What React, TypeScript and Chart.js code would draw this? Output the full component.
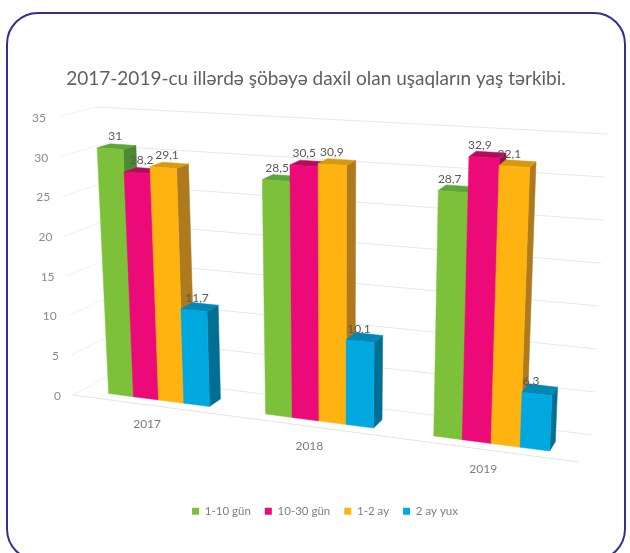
import React, { useEffect, useRef } from "react";
import { Chart, registerables } from "chart.js";

Chart.register(...registerables);

const titleText = "2017-2019-cu illərdə şöbəyə daxil olan uşaqların yaş tərkibi.";
const years = ["2017", "2018", "2019"];
const days1to10 = [31, 28.5, 28.7];
const days10to30 = [28.2, 30.5, 32.9];
const months1to2 = [29.1, 30.9, 32.1];
const monthsOver2 = [11.7, 10.1, 6.3];
const seriesNames = ["1-10 gün", "10-30 gün", "1-2 ay", "2 ay yux"];
const frontColors = ["#7DC13A", "#EC0A78", "#FFB311", "#00A8E0"];
const sideColors = ["#4B8A30", "#A5064F", "#AD7A1E", "#006F94"];
const topColors = ["#5CA63A", "#B80A5C", "#D8980F", "#0087B5"];

type Pt = [number, number];
// Corners of the 3D box as it appears on screen
const corners = {
  frontBottomLeft: [73, 395] as Pt,
  frontBottomRight: [578, 462] as Pt,
  backBottomLeft: [110, 375] as Pt,
  backBottomRight: [593, 435] as Pt,
  frontTopLeft: [58, 117] as Pt,
  frontTopRight: [592, 150] as Pt,
  backTopLeft: [97, 107] as Pt,
  backTopRight: [607, 134] as Pt,
};
const K = 1.11;
const D_FRONT = 0.25;
const D_BACK = 0.6;

const mix = (a: Pt, b: Pt, f: number): Pt => [a[0] + (b[0] - a[0]) * f, a[1] + (b[1] - a[1]) * f];

function warp(t: number) {
  return t / (K - (K - 1) * t);
}

function project(t: number, d: number, v: number): Pt {
  const s = warp(t);
  const c = corners;
  const fb = mix(c.frontBottomLeft, c.frontBottomRight, s);
  const bb = mix(c.backBottomLeft, c.backBottomRight, s);
  const ft = mix(c.frontTopLeft, c.frontTopRight, s);
  const bt = mix(c.backTopLeft, c.backTopRight, s);
  return mix(mix(fb, bb, d), mix(ft, bt, d), v);
}

function quad(ctx: CanvasRenderingContext2D, pts: Pt[], color: string) {
  ctx.beginPath();
  pts.forEach((p, i) => (i ? ctx.lineTo(p[0], p[1]) : ctx.moveTo(p[0], p[1])));
  ctx.closePath();
  ctx.fillStyle = color;
  ctx.strokeStyle = color;
  ctx.lineWidth = 0.5;
  ctx.fill();
  ctx.stroke();
}

function seg(ctx: CanvasRenderingContext2D, a: Pt, b: Pt, color: string, w = 1) {
  ctx.beginPath();
  ctx.moveTo(a[0], a[1]);
  ctx.lineTo(b[0], b[1]);
  ctx.strokeStyle = color;
  ctx.lineWidth = w;
  ctx.stroke();
}

const scene3d = {
  id: "scene3d",
  afterLayout(chart: any) {
    // the legend sits a little right of the chart's centre
    chart.legend.left += 9;
    chart.legend.right += 9;
  },
  beforeDatasetsDraw(chart: any) {
    const ctx: CanvasRenderingContext2D = chart.ctx;
    const area = chart.chartArea;
    const yScale = chart.scales.y;
    const xScale = chart.scales.x;
    const toT = (px: number) => (px - area.left) / (area.right - area.left);
    const toV = (py: number) => (area.bottom - py) / (area.bottom - area.top);

    ctx.save();
    // walls: grid lines and value labels
    ctx.font = "12px Lato";
    ctx.textBaseline = "middle";
    yScale.ticks.forEach((tick: any) => {
      const v = toV(yScale.getPixelForValue(tick.value));
      const a = project(0, 0, v);
      const b = project(0, 1, v);
      const c = project(1, 1, v);
      seg(ctx, a, b, "#f0f0f0");
      seg(ctx, b, c, "#e8e8e8");
      ctx.fillStyle = "#8a8a8a";
      ctx.textAlign = "right";
      ctx.fillText(String(tick.value), a[0] - 12, a[1] + 1);
    });
    // floor
    seg(ctx, project(0, 0, 0), project(1, 0, 0), "#e4e4e4");

    // category labels
    ctx.textAlign = "center";
    ctx.fillStyle = "#7c7c7c";
    years.forEach((y, i) => {
      const p = project(toT(xScale.getPixelForValue(i)), 0, 0);
      ctx.fillText(y, p[0] - 3, p[1] + 19);
    });

    // bars, left to right
    const labels: { text: string; x: number; y: number }[] = [];
    years.forEach((_, i) => {
      chart.data.datasets.forEach((ds: any, di: number) => {
        const el = chart.getDatasetMeta(di).data[i];
        const { x, y, base, width } = el.getProps(["x", "y", "base", "width"], true);
        const t0 = toT(x - width / 2);
        const t1 = toT(x + width / 2);
        const v = toV(y);
        const v0 = toV(base);
        const fbl = project(t0, D_FRONT, v0);
        const fbr = project(t1, D_FRONT, v0);
        const ftl = project(t0, D_FRONT, v);
        const ftr = project(t1, D_FRONT, v);
        const bbr = project(t1, D_BACK, v0);
        const btl = project(t0, D_BACK, v);
        const btr = project(t1, D_BACK, v);
        quad(ctx, [fbr, bbr, btr, ftr], sideColors[di]);
        quad(ctx, [ftl, ftr, btr, btl], topColors[di]);
        quad(ctx, [fbl, fbr, ftr, ftl], frontColors[di]);
        const s = warp(toT(x));
        labels.push({
          text: String(ds.data[i]).replace(".", ","),
          x: (ftl[0] + ftr[0]) / 2 + 6 - 13 * s,
          y: (ftl[1] + ftr[1]) / 2 - 12.5,
        });
      });
    });

    // value labels
    ctx.font = "12px Lato";
    ctx.fillStyle = "#595959";
    ctx.textAlign = "center";
    labels.forEach((l) => ctx.fillText(l.text, l.x, l.y));
    ctx.restore();
    return false;
  },
};

export default function App() {
  const ref = useRef<HTMLCanvasElement>(null);

  useEffect(() => {
    document.body.style.margin = "0";
    document.body.style.overflow = "hidden";
    const values = [days1to10, days10to30, months1to2, monthsOver2];
    const chart = new Chart(ref.current!, {
      type: "bar",
      data: {
        labels: years,
        datasets: values.map((data, i) => ({
          label: seriesNames[i],
          data,
          backgroundColor: frontColors[i],
          categoryPercentage: 0.65,
          barPercentage: 1,
        })),
      },
      options: {
        animation: false,
        responsive: false,
        devicePixelRatio: 1,
        layout: { padding: { top: 67, bottom: 26, left: 2 } },
        scales: {
          x: { display: false },
          y: { display: false, min: 0, max: 35, ticks: { stepSize: 5 } },
        },
        plugins: {
          tooltip: { enabled: false },
          title: {
            display: true,
            text: titleText,
            color: "#606060",
            font: { family: "Lato", size: 19, weight: "normal" },
            padding: 0,
          },
          legend: {
            position: "bottom",
            labels: {
              boxWidth: 7,
              boxHeight: 7,
              padding: 14,
              color: "#808080",
              font: { family: "Lato", size: 11.5 },
            },
          },
        },
      },
      plugins: [scene3d],
    } as any);
    return () => chart.destroy();
  }, []);

  return (
    <div style={{ position: "relative", width: 630, height: 553, overflow: "hidden", background: "#fff" }}>
      <canvas
        ref={ref}
        width={630}
        height={553}
        style={{ position: "absolute", left: 0, top: 0, filter: "blur(0.7px)" }}
      />
      <div
        style={{
          position: "absolute",
          left: 6,
          top: 12,
          width: 616,
          height: 545,
          border: "2px solid #2E3192",
          borderRadius: 32,
          pointerEvents: "none",
        }}
      />
    </div>
  );
}
